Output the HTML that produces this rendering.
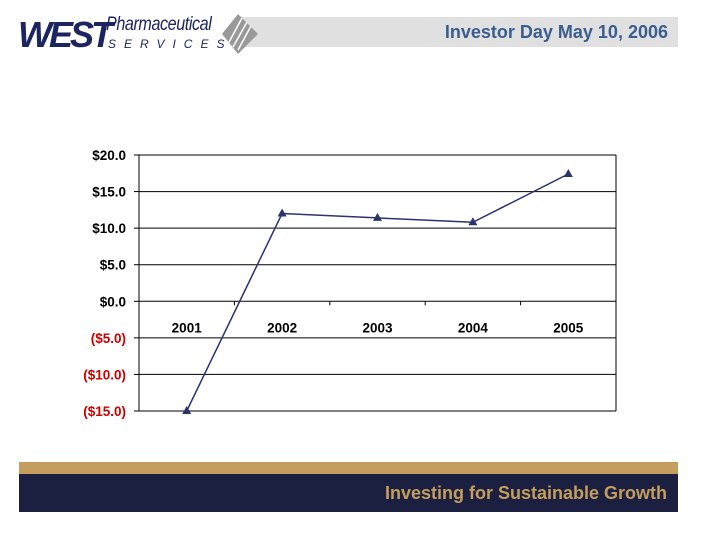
<!DOCTYPE html>
<html><head><meta charset="utf-8"><style>
body{margin:0;width:720px;height:540px;background:#fff;overflow:hidden;position:relative;font-family:"Liberation Sans",sans-serif}
.abs{position:absolute}
</style></head><body>
<div class="abs" style="left:240px;top:17px;width:438px;height:30px;background:#e0e0e0"></div>
<div class="abs" style="right:52px;top:22px;font-size:18px;font-weight:bold;color:#3a5d8f">Investor Day May 10, 2006</div>
<div class="abs" style="left:18px;top:12px;width:240px;height:42px">
<span class="abs" style="left:0;top:2px;font-size:36px;font-weight:bold;font-style:italic;color:#1c2560;letter-spacing:-3px">WEST</span>
<span class="abs" style="left:88px;top:2px;font-size:19px;font-style:italic;color:#1c2560;letter-spacing:-0.5px;transform:scaleX(0.85);transform-origin:left">Pharmaceutical</span>
<span class="abs" style="left:90px;top:25px;font-size:12px;font-style:italic;color:#1c2560;letter-spacing:8px">SERVICES</span>
<svg class="abs" style="left:200px;top:2px" width="42" height="40"><polygon points="20,0 40,20 20,40 4,20" fill="#999"/><g stroke="#fff" stroke-width="1.5"><line x1="10" y1="30" x2="24" y2="4"/><line x1="15" y1="33" x2="29" y2="8"/><line x1="20" y1="36" x2="33" y2="12"/></g></svg>
</div>
<svg class="abs" style="left:0;top:0" width="720" height="540">
<g id="grid"></g><g id="series"></g>
</svg>
<div class="abs" style="left:19px;top:462px;width:659px;height:12px;background:#c59d5c"></div>
<div class="abs" style="left:19px;top:474px;width:659px;height:38px;background:#1b2040"></div>
<div class="abs" style="right:53px;top:483px;font-size:18px;font-weight:bold;color:#c59d5c">Investing for Sustainable Growth</div>
<script>
const categories=["2001","2002","2003","2004","2005"];
const values=[-15.0,12.0,11.4,10.8,17.4];
const ticks=[20,15,10,5,0,-5,-10,-15];
const tickLabels=["$20.0","$15.0","$10.0","$5.0","$0.0","($5.0)","($10.0)","($15.0)"];
const L=139,R=616,T=155,B=411,ymin=-15,ymax=20;
const NS="http://www.w3.org/2000/svg";
function y(v){return B-(v-ymin)/(ymax-ymin)*(B-T);}
const cw=(R-L)/categories.length;
function x(i){return L+cw*(i+0.5);}
function mk(t,a,p){const e=document.createElementNS(NS,t);for(const k in a)e.setAttribute(k,a[k]);p.appendChild(e);return e;}
const g=document.getElementById('grid'),s=document.getElementById('series');
ticks.forEach((t,i)=>{
 const ln=mk('line',{x1:L,x2:R,y1:y(t),y2:y(t),stroke:'#000','stroke-width':1},g);
 
 
 const tk=mk('line',{x1:L-5,x2:L,y1:y(t),y2:y(t),stroke:'#000'},g);
 
 
 const tx=mk('text',{x:L-13,y:y(t)+5,'text-anchor':'end','font-size':'13.5','font-weight':'bold',fill:t<0?'#cc0000':'#000','font-family':'Liberation Sans'},g);
 tx.textContent=tickLabels[i];
 
 
});
mk('line',{x1:L,x2:L,y1:T,y2:B,stroke:'#000'},g);
mk('line',{x1:R,x2:R,y1:T,y2:B,stroke:'#000'},g);
for(let i=0;i<=categories.length;i++){mk('line',{x1:L+cw*i,x2:L+cw*i,y1:y(0),y2:y(0)+4,stroke:'#000'},g);}
categories.forEach((c,i)=>{
 const tx=mk('text',{x:x(i),y:y(0)+31,'text-anchor':'middle','font-size':'13.5','font-weight':'bold','font-family':'Liberation Sans'},g);
 tx.textContent=c;
 
 
});
const pl=mk('polyline',{points:values.map((v,i)=>x(i)+','+y(v)).join(' '),fill:'none',stroke:'#2a3270','stroke-width':1.5},s);


values.forEach((v,i)=>{
 const px=x(i),py=y(v);
 const m=mk('polygon',{points:`${px},${py-5} ${px+4.5},${py+3} ${px-4.5},${py+3}`,fill:'#2a3270'},s);
 
 
});
</script>
</body></html>
